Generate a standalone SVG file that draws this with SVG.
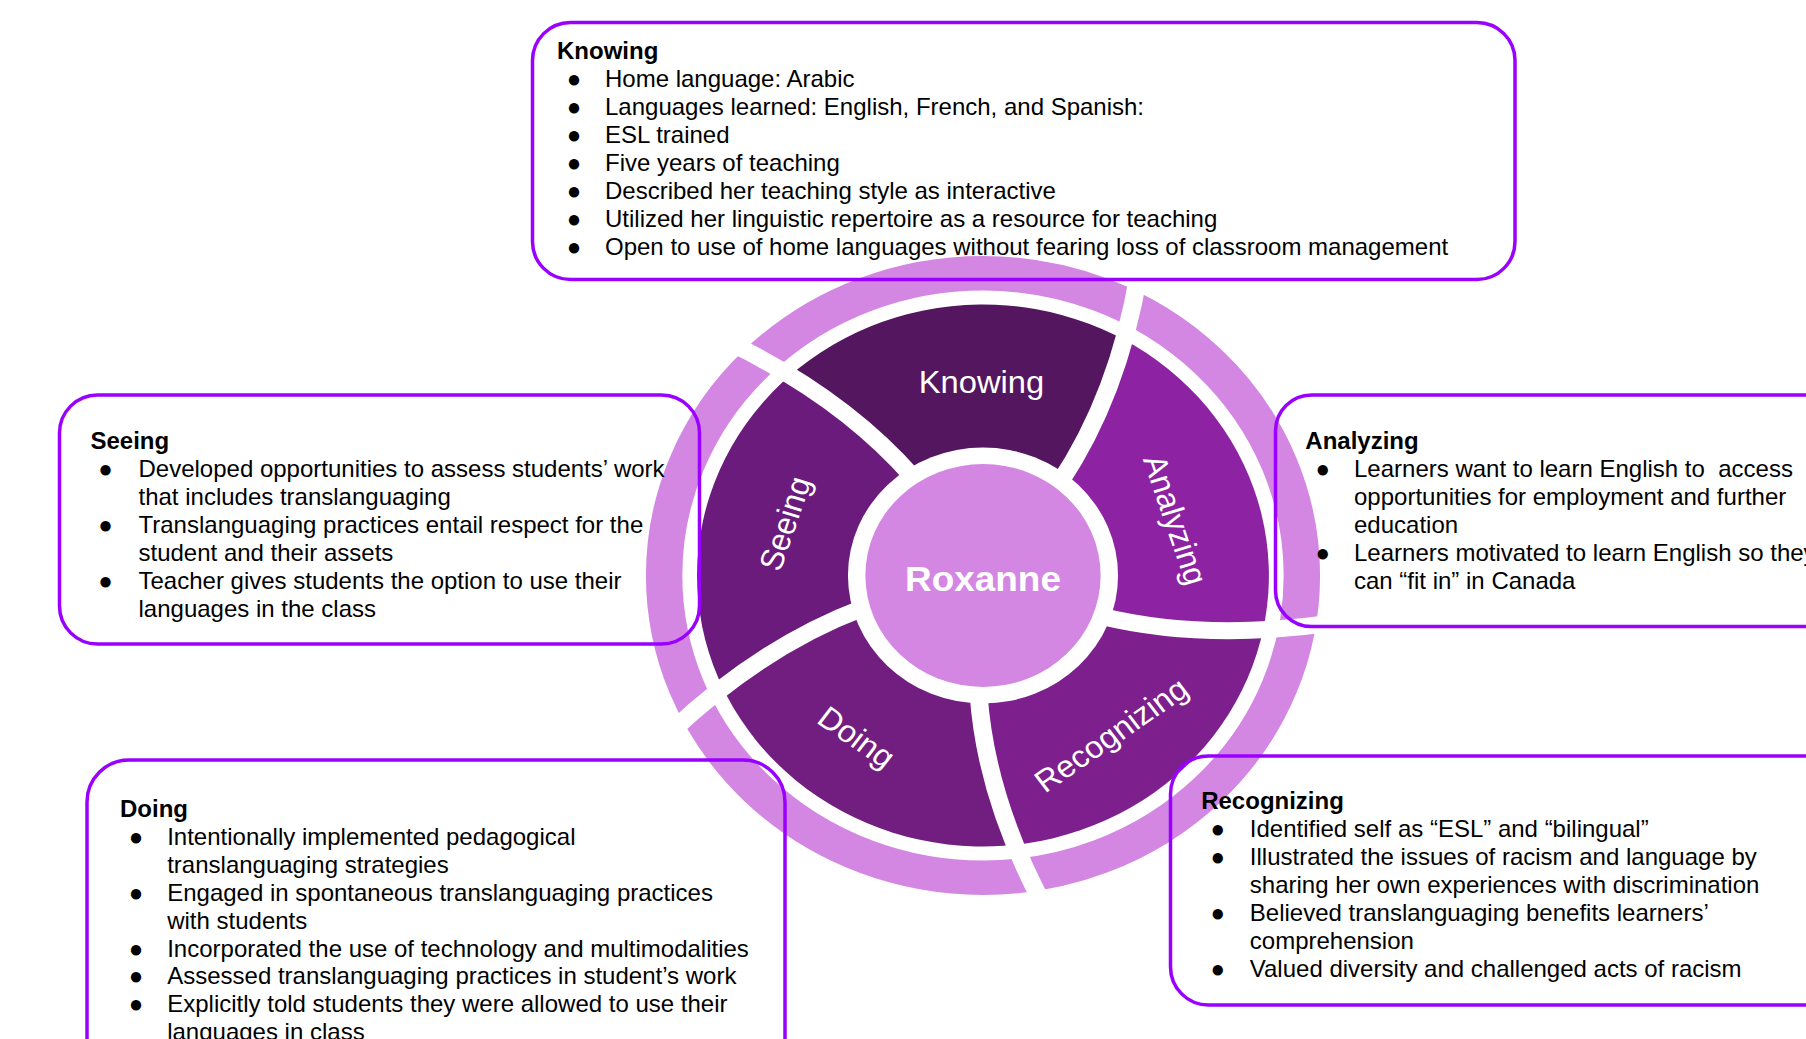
<svg xmlns="http://www.w3.org/2000/svg" width="1806" height="1039" viewBox="0 0 1806 1039">
  <defs>
    <style>
      .box{fill:none;stroke:#9900FF;stroke-width:3.5}
      .hd{font-family:"Liberation Sans",Arial,sans-serif;font-weight:bold;font-size:24px;fill:#000}
      .tx{font-family:"Liberation Sans",Arial,sans-serif;font-size:24px;fill:#000}
      .bl{font-family:"Liberation Sans",Arial,sans-serif;font-size:24px;fill:#000;text-anchor:middle}
      .sep{fill:none;stroke:#fff;stroke-width:17}
      .lbl{font-family:"Liberation Sans",Arial,sans-serif;font-size:31px;fill:#fff;text-anchor:middle}
      .light{fill:#D486E3}
    </style>
    <!-- one wheel segment in local polar frame: spiral edge at 0deg to spiral edge at 72deg -->
    <path id="seg" d="M 117.99 1.13 Q 220.94 -8.12 328.41 -66.13 A 335 335 0 0 1 164.37 291.90 Q 75.99 207.62 35.39 112.57 A 118 118 0 0 0 117.99 1.13 Z"/>
    <!-- spiral divider between segments -->
    <path id="cut" d="M 117.99 1.13 Q 220.94 -8.12 328.41 -66.13"/>
    <clipPath id="disc"><circle r="271"/></clipPath>
  </defs>
  <rect width="1806" height="1039" fill="#fff"/>

  <!-- cycle wheel -->
  <g id="wheel" transform="translate(983 575.5) scale(1.055 1)">
    <circle r="302.25" fill="none" stroke="#D486E3" stroke-width="34.5"/>
    <g id="seg-knowing">
      <use href="#seg" transform="rotate(-124.5)" fill="#53165F" clip-path="url(#disc)"/>
      <text class="lbl" transform="translate(-1.4 -194)" y="11">Knowing</text>
    </g>
    <g id="seg-analyzing">
      <use href="#seg" transform="rotate(-52.5)" fill="#8D23A2" clip-path="url(#disc)"/>
      <text class="lbl" transform="translate(182.7 -55.8) rotate(72)" y="11">Analyzing</text>
    </g>
    <g id="seg-recognizing">
      <use href="#seg" transform="rotate(19.5)" fill="#7D208D" clip-path="url(#disc)"/>
      <text class="lbl" transform="translate(121.3 159.1) rotate(-36)" y="11">Recognizing</text>
    </g>
    <g id="seg-doing">
      <use href="#seg" transform="rotate(91.5)" fill="#721D80" clip-path="url(#disc)"/>
      <text class="lbl" transform="translate(-119.8 161.4) rotate(36)" y="11">Doing</text>
    </g>
    <g id="seg-seeing">
      <use href="#seg" transform="rotate(163.5)" fill="#6B1B7B" clip-path="url(#disc)"/>
      <text class="lbl" transform="translate(-187.9 -52.1) rotate(-72)" y="11">Seeing</text>
    </g>
    <g id="dividers">
      <use href="#cut" class="sep" transform="rotate(-124.5)"/>
      <use href="#cut" class="sep" transform="rotate(-52.5)"/>
      <use href="#cut" class="sep" transform="rotate(19.5)"/>
      <use href="#cut" class="sep" transform="rotate(91.5)"/>
      <use href="#cut" class="sep" transform="rotate(163.5)"/>
    </g>
    <circle r="128" fill="#fff"/>
    <g id="hub">
      <circle r="111.5" class="light"/>
      <text x="0" y="15.3" text-anchor="middle" font-family="Liberation Sans, Arial, sans-serif" font-weight="bold" font-size="35" fill="#fff">Roxanne</text>
    </g>
  </g>

  <!-- Knowing notes -->
  <g id="box-knowing">
    <rect class="box" x="532.5" y="22.5" width="982.5" height="257" rx="38"/>
    <text class="hd" x="557" y="59.3">Knowing</text>
    <text class="bl"><tspan x="574" y="87.2">●</tspan><tspan x="574" y="115.1">●</tspan><tspan x="574" y="143">●</tspan><tspan x="574" y="170.9">●</tspan><tspan x="574" y="198.8">●</tspan><tspan x="574" y="226.7">●</tspan><tspan x="574" y="254.6">●</tspan></text>
    <text class="tx">
      <tspan x="605" y="87.2">Home language: Arabic</tspan>
      <tspan x="605" y="115.1">Languages learned: English, French, and Spanish:</tspan>
      <tspan x="605" y="143">ESL trained</tspan>
      <tspan x="605" y="170.9">Five years of teaching</tspan>
      <tspan x="605" y="198.8">Described her teaching style as interactive</tspan>
      <tspan x="605" y="226.7">Utilized her linguistic repertoire as a resource for teaching</tspan>
      <tspan x="605" y="254.6">Open to use of home languages without fearing loss of classroom management</tspan>
    </text>
  </g>

  <!-- Seeing notes -->
  <g id="box-seeing">
    <rect class="box" x="59.5" y="395" width="640" height="249" rx="38"/>
    <text class="hd" x="90.5" y="449.3">Seeing</text>
    <text class="bl"><tspan x="105.5" y="477.2">●</tspan><tspan x="105.5" y="533">●</tspan><tspan x="105.5" y="588.8">●</tspan></text>
    <text class="tx">
      <tspan x="138.5" y="477.2">Developed opportunities to assess students’ work</tspan>
      <tspan x="138.5" y="505.1">that includes translanguaging</tspan>
      <tspan x="138.5" y="533">Translanguaging practices entail respect for the</tspan>
      <tspan x="138.5" y="560.9">student and their assets</tspan>
      <tspan x="138.5" y="588.8">Teacher gives students the option to use their</tspan>
      <tspan x="138.5" y="616.7">languages in the class</tspan>
    </text>
  </g>

  <!-- Analyzing notes -->
  <g id="box-analyzing">
    <rect class="box" x="1275.5" y="395" width="620" height="231.5" rx="36"/>
    <text class="hd" x="1305.3" y="449.3">Analyzing</text>
    <text class="bl"><tspan x="1322.7" y="477.2">●</tspan><tspan x="1322.7" y="560.9">●</tspan></text>
    <text class="tx" x="1354" y="477.2" xml:space="preserve">Learners want to learn English to  access</text>
    <text class="tx">
      <tspan x="1354" y="505.1">opportunities for employment and further</tspan>
      <tspan x="1354" y="533">education</tspan>
      <tspan x="1354" y="560.9">Learners motivated to learn English so they</tspan>
      <tspan x="1354" y="588.8">can “fit in” in Canada</tspan>
    </text>
  </g>

  <!-- Doing notes -->
  <g id="box-doing">
    <rect class="box" x="87" y="760" width="698" height="330" rx="42"/>
    <text class="hd" x="120" y="817">Doing</text>
    <text class="bl"><tspan x="136" y="844.9">●</tspan><tspan x="136" y="900.7">●</tspan><tspan x="136" y="956.5">●</tspan><tspan x="136" y="984.4">●</tspan><tspan x="136" y="1012.3">●</tspan></text>
    <text class="tx">
      <tspan x="167.2" y="844.9">Intentionally implemented pedagogical</tspan>
      <tspan x="167.2" y="872.8">translanguaging strategies</tspan>
      <tspan x="167.2" y="900.7">Engaged in spontaneous translanguaging practices</tspan>
      <tspan x="167.2" y="928.6">with students</tspan>
      <tspan x="167.2" y="956.5">Incorporated the use of technology and multimodalities</tspan>
      <tspan x="167.2" y="984.4">Assessed translanguaging practices in student’s work</tspan>
      <tspan x="167.2" y="1012.3">Explicitly told students they were allowed to use their</tspan>
      <tspan x="167.2" y="1040.2">languages in class</tspan>
    </text>
  </g>

  <!-- Recognizing notes -->
  <g id="box-recognizing">
    <rect class="box" x="1170.5" y="756" width="700" height="249" rx="38"/>
    <text class="hd" x="1201.2" y="809.3">Recognizing</text>
    <text class="bl"><tspan x="1217.7" y="837.2">●</tspan><tspan x="1217.7" y="865.1">●</tspan><tspan x="1217.7" y="920.9">●</tspan><tspan x="1217.7" y="976.7">●</tspan></text>
    <text class="tx">
      <tspan x="1249.8" y="837.2">Identified self as “ESL” and “bilingual”</tspan>
      <tspan x="1249.8" y="865.1">Illustrated the issues of racism and language by</tspan>
      <tspan x="1249.8" y="893">sharing her own experiences with discrimination</tspan>
      <tspan x="1249.8" y="920.9">Believed translanguaging benefits learners’</tspan>
      <tspan x="1249.8" y="948.8">comprehension</tspan>
      <tspan x="1249.8" y="976.7">Valued diversity and challenged acts of racism</tspan>
    </text>
  </g>
</svg>
